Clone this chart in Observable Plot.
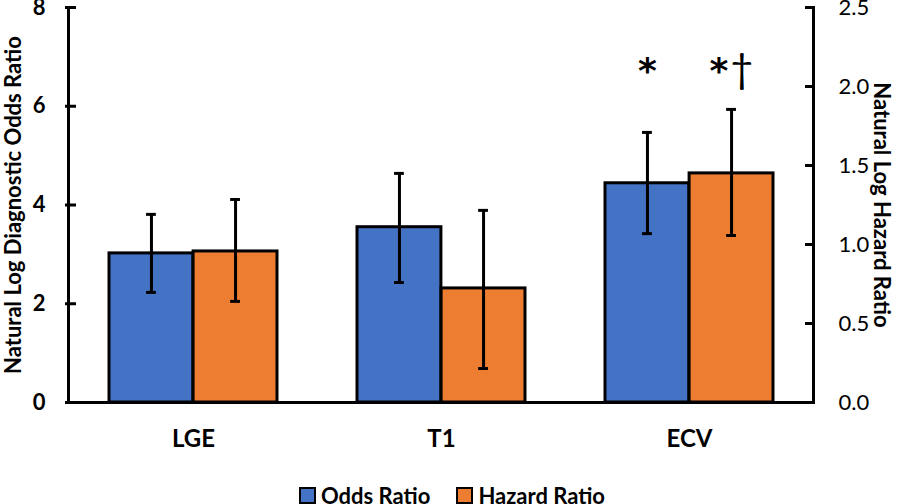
<!DOCTYPE html>
<html>
<head>
<meta charset="utf-8">
<script src="https://cdn.jsdelivr.net/npm/d3@7"></script>
<script src="https://cdn.jsdelivr.net/npm/@observablehq/plot@0.6"></script>
<style>
  html, body { margin: 0; padding: 0; background: #fff; }
  body { width: 900px; height: 504px; overflow: hidden; font-family: Lato, "Open Sans", sans-serif; }
  #legend { display: flex; justify-content: center; align-items: center; gap: 26px; height: 18px; font-size: 22px; font-weight: bold; color: #000; padding-left: 4px; }
  .item { display: flex; align-items: center; gap: 5px; }
  .sw { width: 13px; height: 13px; border: 2px solid #000; }
</style>
</head>
<body>
<div id="chart"></div>
<div id="legend"></div>
<script>
const categories = ["LGE", "T1", "ECV"];
const series = ["Odds Ratio", "Hazard Ratio"];
const colors = ["#4472C4", "#ED7D31"];
// Natural log diagnostic odds ratio (left axis)
const oddsRatio = [3.02, 3.55, 4.44];
const oddsLow = [2.23, 2.43, 3.42];
const oddsHigh = [3.81, 4.64, 5.47];
// Natural log hazard ratio (right axis)
const hazardRatio = [0.956, 0.722, 1.45];
const hazardLow = [0.64, 0.215, 1.057];
const hazardHigh = [1.285, 1.216, 1.855];
const oddsMarks = ["", "", "*"];
const hazardMarks = ["", "", "*\u2020"];
const leftTicks = [0, 2, 4, 6, 8];
const rightTicks = [0, 0.5, 1.0, 1.5, 2.0, 2.5];
const leftTitle = "Natural Log Diagnostic Odds Ratio";
const rightTitle = "Natural Log Hazard Ratio";

const leftMax = 8, rightMax = 2.5;
const k = leftMax / rightMax;

const orRows = categories.map((c, i) => ({cat: c, v: oddsRatio[i], lo: oddsLow[i], hi: oddsHigh[i], mark: oddsMarks[i]}));
const hrRows = categories.map((c, i) => ({cat: c, v: hazardRatio[i] * k, lo: hazardLow[i] * k, hi: hazardHigh[i] * k, mark: hazardMarks[i]}));

const W = 900, H = 486, ml = 68, mr = 87, mt = 7, mb = H - 402;
const pIn = 0.3235, pOut = 0.16;
const plotW = W - ml - mr;
const step = plotW / (categories.length - pIn + 2 * pOut);
const bw = step * (1 - pIn);
const half = bw / 2;
const q = half / 2;
const cap = 5;
const font = "Lato, 'Open Sans', sans-serif";

const chart = Plot.plot({
  width: W, height: H,
  marginLeft: ml, marginRight: mr, marginTop: mt, marginBottom: mb,
  style: {fontFamily: font, color: "#000", background: "#fff", overflow: "visible"},
  x: {domain: categories, paddingInner: pIn, paddingOuter: pOut, axis: null},
  y: {domain: [0, leftMax], axis: null},
  marks: [
    Plot.barY(orRows, {x: "cat", y: "v", fill: colors[0], stroke: "#000", strokeWidth: 3, insetRight: half}),
    Plot.barY(hrRows, {x: "cat", y: "v", fill: colors[1], stroke: "#000", strokeWidth: 3, insetLeft: half}),
    Plot.ruleX(orRows, {x: "cat", y1: "lo", y2: "hi", dx: -q, stroke: "#000", strokeWidth: 3}),
    Plot.ruleX(hrRows, {x: "cat", y1: "lo", y2: "hi", dx: q, stroke: "#000", strokeWidth: 3}),
    Plot.tickY(orRows, {x: "cat", y: "lo", insetLeft: q - cap, insetRight: bw - q - cap, stroke: "#000", strokeWidth: 3}),
    Plot.tickY(orRows, {x: "cat", y: "hi", insetLeft: q - cap, insetRight: bw - q - cap, stroke: "#000", strokeWidth: 3}),
    Plot.tickY(hrRows, {x: "cat", y: "lo", insetLeft: half + q - cap, insetRight: q - cap, stroke: "#000", strokeWidth: 3}),
    Plot.tickY(hrRows, {x: "cat", y: "hi", insetLeft: half + q - cap, insetRight: q - cap, stroke: "#000", strokeWidth: 3}),
    Plot.text(orRows.filter(d => d.mark), {x: "cat", frameAnchor: "top", dy: 64, dx: -q, text: "mark", fontSize: 36, fontWeight: "bold", fontFamily: "DejaVu Sans", lineAnchor: "middle", textAnchor: "middle", className: "sig"}),
    Plot.text(hrRows.filter(d => d.mark), {x: "cat", frameAnchor: "top", dy: 64, dx: q, text: "mark", fontSize: 36, fontWeight: "bold", fontFamily: "DejaVu Sans", lineAnchor: "middle", textAnchor: "middle", className: "sig"}),
    // axis lines
    Plot.frame({anchor: "left", stroke: "#000", strokeWidth: 3}),
    Plot.frame({anchor: "right", stroke: "#000", strokeWidth: 3}),
    Plot.ruleY([0], {stroke: "#000", strokeWidth: 3}),
    // left axis
    Plot.axisY({anchor: "left", ticks: leftTicks, tickSize: 3, tickPadding: 20, fontSize: 22, fontWeight: "bold", label: null, strokeWidth: 3}),
    Plot.tickY(leftTicks, {y: d => d, insetRight: plotW - 8, stroke: "#000", strokeWidth: 3}),
    // right axis
    Plot.axisY({anchor: "right", ticks: rightTicks.map(d => d * k), tickFormat: d => (d / k).toFixed(1), tickSize: 0, tickPadding: 25, fontSize: 22, label: null}),
    Plot.tickY(rightTicks, {y: d => d * k, insetLeft: plotW - 8, stroke: "#000", strokeWidth: 3}),
    // x axis
    Plot.axisX({tickSize: 0, tickPadding: 27, fontSize: 24, fontWeight: "bold", label: null}),
    // titles
    Plot.text([leftTitle], {text: d => d, frameAnchor: "left", rotate: -90, dx: -55, textAnchor: "middle", fontSize: 22, fontWeight: "bold"}),
    Plot.text([rightTitle], {text: d => d, frameAnchor: "right", rotate: 90, dx: 68, textAnchor: "middle", fontSize: 22, fontWeight: "bold"})
  ]
});
document.getElementById("chart").appendChild(chart);

// dagger drawn in a lighter, taller style than the asterisk
d3.select(chart).selectAll("g.sig text").each(function() {
  const s = this.textContent;
  if (!s.includes("\u2020")) return;
  const el = d3.select(this);
  el.text(null);
  for (const ch of s) {
    const ts = el.append("tspan").text(ch);
    if (ch === "\u2020") ts.attr("font-weight", "normal").attr("font-family", "Lato, sans-serif").attr("font-size", 40).attr("dx", 2);
  }
});

const legend = document.getElementById("legend");
series.forEach((s, i) => {
  const item = document.createElement("div");
  item.className = "item";
  const sw = document.createElement("div");
  sw.className = "sw";
  sw.style.background = colors[i];
  const t = document.createElement("span");
  t.textContent = s;
  item.appendChild(sw); item.appendChild(t);
  legend.appendChild(item);
});
</script>
</body>
</html>
